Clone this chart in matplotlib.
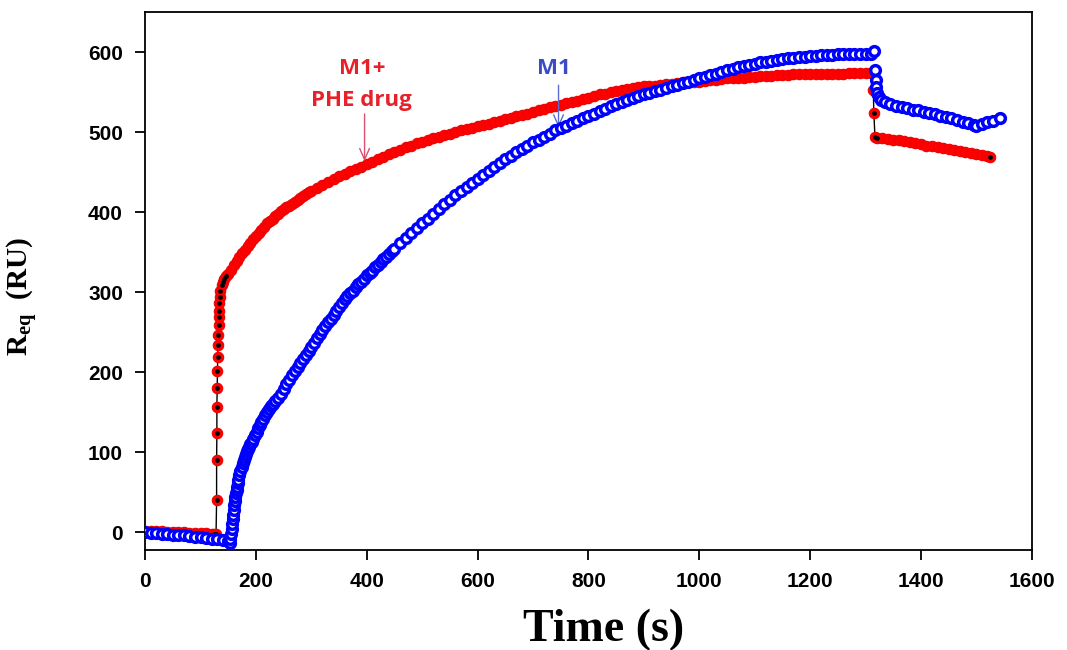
import numpy as np
import matplotlib
matplotlib.use("Agg")
import matplotlib.pyplot as plt

# ---- M1 + PHE drug (red) ----
red_base_t = [0, 10, 20, 30, 40, 50, 60, 70, 80, 90, 100, 110, 120, 125, 128]
red_base_y = [1, 1, 1, 1, 0, 0, 0, 0, -1, -1, -1, -1, -2, -2, -2]

red_jump_t = [129, 129, 129.5, 129.5, 130, 130.5, 131, 131.5, 132, 132.5,
              133, 133.5, 134, 135, 136, 138, 140, 143, 146]
red_jump_y = [40, 90, 124, 157, 180, 202, 219, 234, 246, 259,
              269, 277, 286, 294, 302, 309, 313, 317, 320]

red_fast_t = list(range(150, 305, 5))
red_fast_y = [323, 328, 334, 339, 344, 349, 353, 358, 362, 366, 370, 374, 378,
              382, 386, 389, 392, 395, 398, 401, 404, 406, 408, 410, 413, 415,
              418, 420, 423, 425, 427]

red_slow_t = list(range(310, 1320, 10))
red_slow_y = [430, 434, 438, 441, 445, 448, 451, 454, 457, 460,
              463, 466, 469, 472, 475, 478, 481, 483, 486, 488,
              490, 492, 494, 496, 498, 500, 502, 504, 505, 507,
              509, 510, 512, 514, 516, 518, 520, 521, 523, 525,
              527, 529, 531, 533, 534, 536, 538, 539, 541, 543,
              545, 547, 548, 550, 551, 552, 554, 555, 556, 557,
              558, 558, 559, 560, 560, 561, 562, 562, 563, 563,
              564, 565, 565, 566, 567, 567, 568, 568, 569, 569,
              570, 570, 570, 571, 571, 571, 572, 572, 572, 572,
              573, 573, 573, 573, 573, 573, 574, 574, 574, 574,
              574]

red_drop_t = [1314, 1315, 1317]
red_drop_y = [552, 524, 494]

red_diss_t = [1320, 1330, 1340, 1350, 1360, 1370, 1380, 1390, 1400, 1410,
              1420, 1430, 1440, 1450, 1460, 1470, 1480, 1490, 1500, 1510,
              1520, 1525]
red_diss_y = [493, 492, 491, 490, 490, 489, 487, 486, 485, 483,
              482, 481, 480, 479, 478, 476, 475, 474, 472, 471,
              470, 469]

# ---- M1 (blue) ----
blue_base_t = [0, 10, 20, 30, 40, 50, 60, 70, 80, 90, 100, 110, 120, 130,
               140, 150, 153]
blue_base_y = [0, -1, -1, -2, -2, -3, -4, -4, -5, -6, -6, -7, -8, -9,
               -10, -11, -13]

blue_rise_t = [154, 155, 156, 157, 158, 159, 160, 161, 162, 163, 164, 165,
               166, 167, 168, 170, 172, 174, 176, 178, 180, 182, 184, 186,
               188, 190, 192, 195, 198, 201, 204, 207, 210, 213, 216, 220,
               224, 228]
blue_rise_y = [-8, -2, 4, 10, 16, 22, 28, 34, 39, 44, 49, 53,
               57, 61, 65, 71, 77, 82, 86, 90, 94, 98, 101, 104,
               107, 110, 113, 117, 121, 125, 130, 134, 138, 142, 146, 150,
               154, 158]

blue_mid_t = list(range(230, 455, 5))
blue_mid_y = [160, 164, 168, 173, 179, 185, 190, 196, 201, 206, 211, 216,
              221, 226, 232, 237, 243, 248, 253, 258, 263, 267, 272, 277,
              282, 286, 291, 295, 299, 302, 306, 310, 313, 317, 321, 324,
              327, 331, 334, 338, 341, 344, 348, 351, 354]

blue_slow_t = list(range(460, 1320, 10))
blue_slow_y = [361, 368, 374, 380, 386, 392, 398, 404, 410, 415,
               421, 426, 432, 437, 442, 447, 452, 457, 462, 466,
               470, 475, 479, 483, 487, 490, 494, 498, 502, 505,
               508, 511, 514, 517, 520, 523, 526, 529, 532, 535,
               537, 540, 542, 545, 547, 549, 551, 553, 555, 557,
               559, 561, 563, 565, 567, 569, 571, 573, 575, 577,
               579, 581, 582, 584, 585, 587, 588, 589, 590, 591,
               592, 593, 594, 594, 595, 595, 596, 596, 596, 597,
               597, 597, 597, 598, 598, 598]

blue_drop_t = [1316, 1317, 1318, 1319, 1321, 1324, 1328, 1335, 1345, 1355, 1365]
blue_drop_y = [601, 578, 565, 556, 549, 544, 540, 537, 535, 533, 531]

blue_diss_t = [1375, 1385, 1395, 1405, 1415, 1425, 1435, 1445, 1455, 1465,
               1475, 1485, 1495, 1500, 1510, 1520, 1530, 1543]
blue_diss_y = [530, 528, 527, 525, 524, 522, 520, 519, 517, 515,
               513, 511, 509, 508, 510, 512, 514, 517]

red_t = np.array(red_base_t + red_jump_t + red_fast_t + red_slow_t + red_drop_t + red_diss_t)
red_y = np.array(red_base_y + red_jump_y + red_fast_y + red_slow_y + red_drop_y + red_diss_y)
blue_t = np.array(blue_base_t + blue_rise_t + blue_mid_t + blue_slow_t + blue_drop_t + blue_diss_t)
blue_y = np.array(blue_base_y + blue_rise_y + blue_mid_y + blue_slow_y + blue_drop_y + blue_diss_y)

# punti con il puntino nero visibile (salti + ultimo punto)
dot_t = red_base_t[-2:] + red_jump_t + red_drop_t + red_diss_t[:1] + red_diss_t[-1:]
dot_y = red_base_y[-2:] + red_jump_y + red_drop_y + red_diss_y[:1] + red_diss_y[-1:]

plt.rcParams['mathtext.fontset'] = 'custom'
plt.rcParams['mathtext.rm'] = 'Liberation Serif:bold'
plt.rcParams['mathtext.it'] = 'Liberation Serif:bold'

fig = plt.figure(figsize=(10.67, 6.5), dpi=100)
ax = fig.add_axes([0.136, 0.154, 0.831, 0.8275])

# serie rossa: linea nera sotto, cerchi rossi pieni
ax.plot(red_t, red_y, color='black', lw=1.0, zorder=2)
ax.plot(red_t, red_y, 'o', ms=7.5, mfc='#ff0000', mec='#f00000', mew=0.8,
        ls='none', zorder=3)
ax.plot(dot_t, dot_y, 'o', ms=2.4, color='black', ls='none', zorder=4)

# serie blu: cerchi vuoti
ax.plot(blue_t, blue_y, 'o', ms=7, mfc='white', mec='#0000ff', mew=2.5,
        ls='none', zorder=5)

# annotazioni
txt_font = dict(family=['Open Sans', 'DejaVu Sans'], fontweight='bold', fontsize=16)
ax.text(391, 580, 'M1+', color='#e8202a', ha='center', va='center', **txt_font)
ax.text(391, 539, 'PHE drug', color='#e8202a', ha='center', va='center', **txt_font)
ax.annotate('', xy=(396, 460), xytext=(396, 526),
            arrowprops=dict(arrowstyle='->,head_length=0.8,head_width=0.35',
                            color='#d8506a', lw=1.0))
ax.text(737, 580, 'M1', color='#3a4bc8', ha='center', va='center', **txt_font)
ax.annotate('', xy=(746, 502), xytext=(746, 562),
            arrowprops=dict(arrowstyle='->,head_length=0.8,head_width=0.35',
                            color='#5b6bd0', lw=1.0))

ax.set_xlim(0, 1600)
ax.set_ylim(-22, 650)
ax.set_xticks(range(0, 1601, 200))
ax.set_yticks(range(0, 601, 100))

for s in ax.spines.values():
    s.set_linewidth(1.3)
    s.set_color('black')
ax.tick_params(direction='out', length=7, width=1.3, pad=9,
               top=False, right=False)
for lab in ax.get_xticklabels() + ax.get_yticklabels():
    lab.set_fontfamily('Liberation Sans')
    lab.set_fontweight('bold')
    lab.set_fontsize(15)

ax.set_xlabel('Time (s)', fontfamily='Liberation Serif', fontweight='bold',
              fontsize=33)
ax.xaxis.set_label_coords(0.517, -0.11)
ax.set_ylabel(r'R$_{\rm eq}$  (RU)', fontfamily='Liberation Serif',
              fontweight='bold', fontsize=21)
ax.yaxis.set_label_coords(-0.118, 0.472)

fig.savefig('out.png', dpi=100)
